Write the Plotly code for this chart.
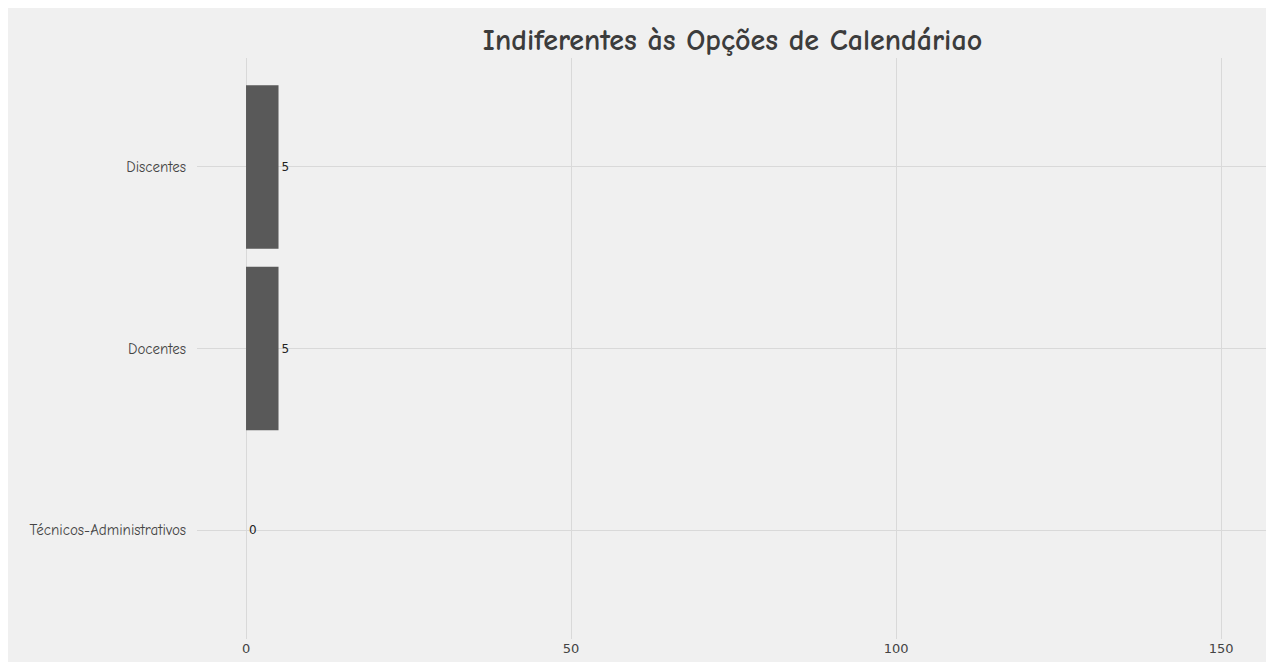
import plotly.graph_objects as go

categorias = ["Técnicos-Administrativos", "Docentes", "Discentes"]
indiferentes = [0, 5, 5]
x_ticks = [0, 50, 100, 150]

comic = "Comic Sans MS, Comic Neue, Lato, sans-serif"

fig = go.Figure()
fig.add_bar(
    x=indiferentes,
    y=categorias,
    orientation="h",
    marker=dict(color="#595959", line=dict(width=0)),
    width=0.9,
    text=[str(v) for v in indiferentes],
    textposition="outside",
    cliponaxis=False,
    textfont=dict(family="DejaVu Sans, sans-serif", size=12, color="#222222"),
    hoverinfo="x+y",
)

fig.update_layout(
    width=1280,
    height=670,
    title=dict(
        text="<b>Indiferentes às Opções de Calendáriao</b>",
        xref="paper",
        x=0.5,
        xanchor="center",
        yref="container",
        y=1 - 31 / 670,
        yanchor="middle",
        font=dict(family=comic, size=30, color="#3c3c3c"),
    ),
    paper_bgcolor="#f0f0f0",
    plot_bgcolor="#f0f0f0",
    showlegend=False,
    margin=dict(l=189, r=20, t=50, b=39),
)
fig.update_xaxes(
    range=[-7.54, 157.2],
    tickvals=x_ticks,
    showgrid=True,
    gridcolor="#d9d9d9",
    gridwidth=1,
    zeroline=False,
    showline=False,
    tickfont=dict(family="DejaVu Sans, sans-serif", size=13, color="#444444"),
)
fig.update_yaxes(
    range=[-0.6, 2.6],
    showgrid=True,
    gridcolor="#d9d9d9",
    gridwidth=1,
    zeroline=False,
    showline=False,
    ticks="",
    ticksuffix="  ",
    tickfont=dict(family=comic, size=15, color="#444444"),
)

fig.write_html("out.html")
